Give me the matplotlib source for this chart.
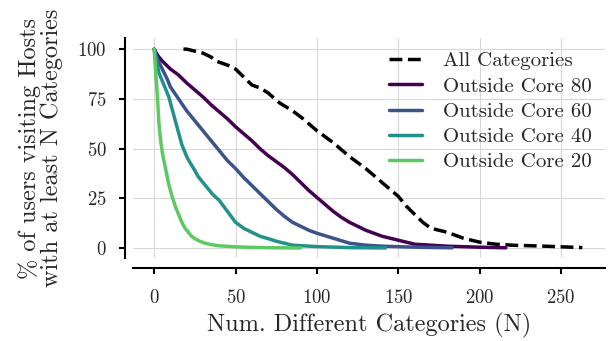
import matplotlib
matplotlib.use('Agg')
from matplotlib import pyplot as plt
import seaborn as sns

sns.set_style('whitegrid')
plt.rcParams['font.family'] = ['cmr10', 'DejaVu Serif']
plt.rcParams['axes.formatter.use_mathtext'] = True

# curves (x = num categories, y = % of users)
all_x = [18, 20, 25, 30, 35, 38, 45, 50, 55, 60, 65, 70, 77, 85, 90, 100, 110, 120, 130, 140, 150, 155, 160, 165, 170, 180, 190, 200, 210, 220, 240, 263]
all_y = [100, 100, 99, 98, 96, 94, 92, 90, 86, 82, 80.5, 78, 73, 69, 66, 59, 53, 46, 40, 33, 26, 21, 17, 13, 10, 8, 5, 3, 2, 1.5, 1, 0.3]

c80_x = [0, 2, 5, 10, 15, 20, 25, 30, 35, 40, 45, 50, 55, 60, 65, 70, 75, 80, 85, 90, 95, 100, 105, 110, 115, 120, 125, 130, 140, 150, 160, 180, 200, 216]
c80_y = [100, 97, 94, 90, 87, 83, 79.5, 76, 72, 68.5, 65, 61, 57.5, 54, 50, 46.5, 43.5, 40.5, 37, 33, 29, 25.5, 22, 18.5, 15.5, 13, 11, 9, 6, 4, 2, 1, 0.5, 0.2]

c60_x = [0, 2, 5, 8, 10, 15, 20, 25, 30, 35, 40, 45, 50, 55, 60, 65, 70, 75, 80, 85, 90, 95, 100, 110, 120, 130, 140, 160, 183]
c60_y = [100, 95, 90, 85, 81, 75, 69, 64, 59, 54, 49, 44, 40, 35.5, 31.5, 27.5, 23.5, 19.5, 16, 13, 11, 9, 7.5, 5, 2.5, 1.5, 1, 0.5, 0.2]

c40_x = [0, 1, 2, 3, 5, 7, 9, 11, 13, 15, 17, 20, 22, 25, 27, 30, 33, 36, 40, 45, 50, 55, 60, 65, 70, 75, 85, 100, 120, 142]
c40_y = [100, 96, 92, 88, 84, 80, 76, 70, 64, 58, 52, 46, 43, 39, 36, 33, 30, 27, 24, 18.5, 13, 10, 8, 6, 4.8, 3.5, 1.5, 0.8, 0.3, 0.1]

c20_x = [0, 0.5, 1, 1.5, 2, 3, 4, 5, 6, 7, 9, 11, 13, 15, 17, 19, 21, 23, 25, 28, 31, 35, 40, 50, 60, 75, 90]
c20_y = [100, 94, 88, 82, 76, 62, 54, 48, 44, 40, 32, 26, 21, 17, 13, 10, 8, 6, 4.8, 3.5, 2.6, 1.8, 1.2, 0.7, 0.4, 0.2, 0.1]

fig, ax = plt.subplots(figsize=(6.1, 3.41), dpi=100)

ax.plot(all_x, all_y, '--', color='black', lw=2.5, label='All Categories')
ax.plot(c80_x, c80_y, color='#440154', lw=2.5, label='Outside Core 80')
ax.plot(c60_x, c60_y, color='#3b528b', lw=2.5, label='Outside Core 60')
ax.plot(c40_x, c40_y, color='#21918c', lw=2.5, label='Outside Core 40')
ax.plot(c20_x, c20_y, color='#5ec962', lw=2.5, label='Outside Core 20')

ax.set_xlim(-13, 277)
ax.set_ylim(-5, 105.5)
ax.set_xticks([0, 50, 100, 150, 200, 250])
ax.set_yticks([0, 25, 50, 75, 100])
ax.grid(color='#d8d8d8', lw=0.8)

sns.despine(ax=ax, offset={'left': 6, 'bottom': 7})
for s in ['left', 'bottom']:
    ax.spines[s].set_color('black')
    ax.spines[s].set_linewidth(1.5)
ax.tick_params(axis='both', which='major', direction='out', length=4, width=1.5,
               color='black', labelsize=13.5, bottom=True, left=True)
ax.tick_params(axis='x', pad=11)
ax.tick_params(axis='y', pad=9)

ax.set_xlabel('Num. Different Categories (N)', fontsize=17.5, labelpad=4.5)
ax.set_ylabel('% of users visiting Hosts\nwith at least N Categories', fontsize=17.5, linespacing=1.0, labelpad=10)

ax.legend(loc='upper right', frameon=False, fontsize=15, handlelength=1.6,
          borderaxespad=0.25, labelspacing=0.32, handletextpad=1.0)

plt.subplots_adjust(left=0.218, right=0.992, top=0.888, bottom=0.243)
plt.savefig('out.png')
